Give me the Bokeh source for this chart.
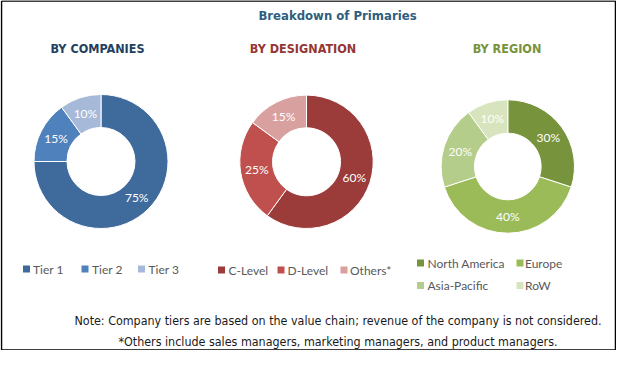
import math
from bokeh.plotting import figure
from bokeh.models import Range1d, ColumnDataSource
from bokeh.core.properties import value
from bokeh.embed import file_html
from bokeh.resources import INLINE

# ---------------- data ----------------
title = "Breakdown of Primaries"

companies_title = "BY COMPANIES"
companies_labels = ["Tier 1", "Tier 2", "Tier 3"]
companies_values = [75, 15, 10]
companies_colors = ["#3F6A9C", "#4F81BD", "#A7B9D9"]

designation_title = "BY DESIGNATION"
designation_labels = ["C-Level", "D-Level", "Others*"]
designation_values = [60, 25, 15]
designation_colors = ["#9B3B3A", "#C0504D", "#D9A0A0"]

region_title = "BY REGION"
region_labels = ["North America", "Europe", "Asia-Pacific", "RoW"]
region_values = [30, 40, 20, 10]
region_colors = ["#77933C", "#9BBB59", "#B5CD8A", "#D7E4BD"]

notes = [
    "Note: Company tiers are based on the value chain; revenue of the company is not considered.",
    "*Others include sales managers, marketing managers, and product managers.",
]

# ---------------- figure ----------------
FW, FH = 616, 350
p = figure(width=FW, height=FH, x_range=Range1d(0, FW), y_range=Range1d(0, FH),
           output_backend="svg", toolbar_location=None, min_border=0)
p.axis.visible = False
p.xgrid.visible = False
p.ygrid.visible = False
p.outline_line_color = None
p.background_fill_color = "white"
p.border_fill_color = "white"

def Y(y):
    return FH - y

# frame around the whole graphic
p.line(x=[1, 1, FW - 1, FW - 1, 1], y=[Y(0.5), Y(FH - 0.5), Y(FH - 0.5), Y(0.5), Y(0.5)],
       line_color="black", line_width=1.5)

LABEL_FONT = value("Lato")
NARROW = value("'DejaVu Sans Condensed', 'DejaVu Sans', sans-serif")

def donut(cx, cy, r_out, r_in, vals, colors):
    total = float(sum(vals))
    cum = 0.0
    starts, ends, lx, ly, txt = [], [], [], [], []
    for v in vals:
        a0 = math.pi / 2 - 2 * math.pi * cum / total
        cum += v
        a1 = math.pi / 2 - 2 * math.pi * cum / total
        starts.append(a0)
        ends.append(a1)
        mid = (a0 + a1) / 2
        rm = (r_out + r_in) / 2
        lx.append(cx + rm * math.cos(mid))
        ly.append(Y(cy) + rm * math.sin(mid))
        txt.append(f"{v}%")
    src = ColumnDataSource(dict(s=starts, e=ends, c=colors))
    p.annular_wedge(x=cx, y=Y(cy), inner_radius=r_in, outer_radius=r_out,
                    start_angle="s", end_angle="e", direction="clock",
                    fill_color="c", line_color="white", line_width=1, source=src)
    p.text(x=lx, y=ly, text=txt, text_color="white", text_font=LABEL_FONT,
           text_font_size="12px", text_align="center", text_baseline="middle")

donut(100.5, 161, 67, 34, companies_values, companies_colors)
donut(306, 161.3, 66.7, 34, designation_values, designation_colors)
donut(507.3, 166, 66.7, 33.3, region_values, region_colors)

# titles
p.text(x=[337], y=[Y(15)], text=[title], text_color="#2F5E7E", text_font=NARROW,
       text_font_style="bold", text_font_size="13px", text_align="center", text_baseline="middle")
p.text(x=[97, 302.5, 506.5], y=[Y(48)] * 3,
       text=[companies_title, designation_title, region_title],
       text_color=["#243F60", "#943634", "#77933C"], text_font=NARROW,
       text_font_style="bold", text_font_size="12.5px", text_align="center", text_baseline="middle")

# legends
def legend(items, colors, positions):
    sx = [q[0] for q in positions]
    sy = [Y(q[2]) for q in positions]
    tx = [q[1] for q in positions]
    p.rect(x=sx, y=sy, width=7, height=7, width_units="screen", height_units="screen",
           fill_color=colors, line_color=None)
    p.text(x=tx, y=sy, text=items, text_color="#595959", text_font=LABEL_FONT,
           text_font_size="12px", text_align="left", text_baseline="middle")

legend(companies_labels, companies_colors,
       [(26, 32.5, 268.5), (84.5, 91.5, 268.5), (141, 148, 268.5)])
legend(designation_labels, designation_colors,
       [(221, 228, 269.5), (280.5, 287, 269.5), (343.5, 349.5, 269.5)])
legend(region_labels, region_colors,
       [(420, 427, 262.5), (519.5, 524.5, 262.5), (420, 427, 285), (519.5, 524.5, 285)])

# notes
p.text(x=[337.5, 337.5], y=[Y(320), Y(341)], text=notes, text_color="#1A1A1A",
       text_font=NARROW, text_font_size="12.4px", text_align="center", text_baseline="middle")

open("out.html", "w").write(file_html(p, INLINE))
